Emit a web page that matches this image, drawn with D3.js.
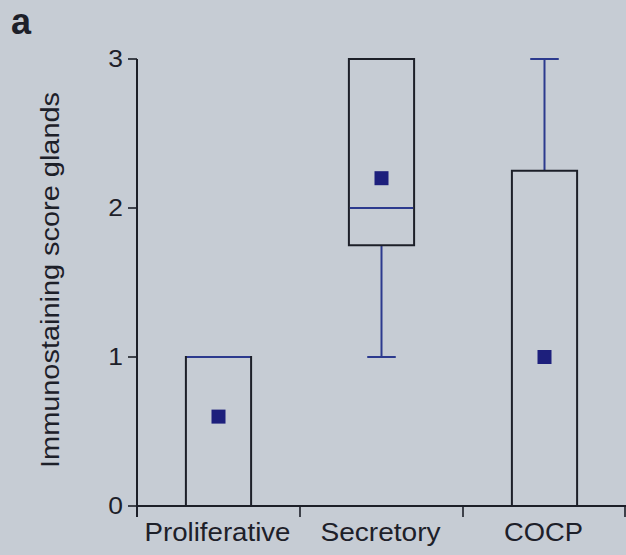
<!DOCTYPE html>
<html>
<head>
<meta charset="utf-8">
<script src="https://cdn.jsdelivr.net/npm/d3@7"></script>
<style>
  html, body { margin: 0; padding: 0; background: #c6ccd4; }
  svg { display: block; }
  text { font-family: "Liberation Sans", Arial, Helvetica, sans-serif; fill: #1d2029; }
</style>
</head>
<body>
<svg id="chart" width="626" height="555"></svg>
<script>
// Box-plot summary per group (immunostaining score, 0-3)
const categories = ["Proliferative", "Secretory", "COCP"];
const minValues    = [0, 1, 0];
const q1Values     = [0, 1.75, 0];
const medianValues = [1, 2, 0];
const q3Values     = [1, 3, 2.25];
const maxValues    = [1, 3, 3];
const meanValues   = [0.6, 2.2, 1.0];
const yTicks = [0, 1, 2, 3];
const yLabel = "Immunostaining score glands";
const panelLetter = "a";

const W = 626, H = 555;
const margin = { left: 137, right: 0, top: 59, bottom: 50 };

const svg = d3.select("#chart");
svg.append("rect").attr("width", W).attr("height", H).attr("fill", "#c6ccd4");

const x = d3.scaleBand().domain(categories).range([margin.left, W - margin.right]).padding(0);
const y = d3.scaleLinear().domain([0, 3]).range([H - margin.bottom + 1, margin.top]);

const ink = "#1c1f28";
const blue = "#2c3a8e";
const meanFill = "#1d1f7c";

const rows = categories.map((c, i) => ({
  c, min: minValues[i], q1: q1Values[i], med: medianValues[i],
  q3: q3Values[i], max: maxValues[i], mean: meanValues[i]
}));

const boxW = x.bandwidth() * 0.4;
const capW = x.bandwidth() * 0.175;
const cx = d => x(d.c) + x.bandwidth() / 2;

const g = svg.append("g");

// whiskers
rows.forEach(d => {
  if (d.max > d.q3) {
    g.append("line").attr("x1", cx(d)).attr("x2", cx(d)).attr("y1", y(d.q3)).attr("y2", y(d.max))
      .attr("stroke", blue).attr("stroke-width", 2);
    g.append("line").attr("x1", cx(d) - capW / 2).attr("x2", cx(d) + capW / 2).attr("y1", y(d.max)).attr("y2", y(d.max))
      .attr("stroke", blue).attr("stroke-width", 2);
  }
  if (d.min < d.q1) {
    g.append("line").attr("x1", cx(d)).attr("x2", cx(d)).attr("y1", y(d.q1)).attr("y2", y(d.min))
      .attr("stroke", blue).attr("stroke-width", 2);
    g.append("line").attr("x1", cx(d) - capW / 2).attr("x2", cx(d) + capW / 2).attr("y1", y(d.min)).attr("y2", y(d.min))
      .attr("stroke", blue).attr("stroke-width", 2);
  }
});

// boxes
g.selectAll("rect.box").data(rows).join("rect")
  .attr("class", "box")
  .attr("x", d => cx(d) - boxW / 2)
  .attr("width", boxW)
  .attr("y", d => y(d.q3))
  .attr("height", d => y(d.q1) - y(d.q3))
  .attr("fill", "none")
  .attr("stroke", ink)
  .attr("stroke-width", 2);

// x axis baseline drawn before median lines so a zero median stays visible
const axisY = y(0);
svg.append("line").attr("x1", margin.left).attr("x2", W).attr("y1", axisY).attr("y2", axisY)
  .attr("stroke", ink).attr("stroke-width", 2);

// medians
g.selectAll("line.med").data(rows).join("line")
  .attr("class", "med")
  .attr("x1", d => cx(d) - boxW / 2 + 1)
  .attr("x2", d => cx(d) + boxW / 2 - 1)
  .attr("y1", d => y(d.med)).attr("y2", d => y(d.med))
  .attr("stroke", blue).attr("stroke-width", 2);

// means
const ms = 14;
g.selectAll("rect.mean").data(rows).join("rect")
  .attr("class", "mean")
  .attr("x", d => cx(d) - ms / 2)
  .attr("y", d => y(d.mean) - ms / 2)
  .attr("width", ms).attr("height", ms)
  .attr("fill", meanFill);

// y axis
const yAxis = svg.append("g");
yAxis.append("line").attr("x1", margin.left).attr("x2", margin.left)
  .attr("y1", y(3)).attr("y2", axisY + 11).attr("stroke", ink).attr("stroke-width", 2);
yTicks.forEach(t => {
  yAxis.append("line").attr("x1", margin.left - 9).attr("x2", margin.left)
    .attr("y1", y(t)).attr("y2", y(t)).attr("stroke", ink).attr("stroke-width", 1.6);
  yAxis.append("text")
    .attr("transform", `translate(${margin.left - 14},${y(t) + 8}) scale(1.1,1)`)
    .attr("text-anchor", "end")
    .attr("font-size", 24)
    .text(d3.format("d")(t));
});

// x axis ticks at group boundaries
const bounds = categories.map(c => x(c)).concat([x.range()[1] - 1]);
bounds.slice(1).forEach(b => {
  svg.append("line").attr("x1", b).attr("x2", b).attr("y1", axisY).attr("y2", axisY + 11)
    .attr("stroke", ink).attr("stroke-width", 1.6);
});

// category labels
const labelWidths = { "Proliferative": 146, "Secretory": 120, "COCP": 79 };
categories.forEach(c => {
  svg.append("text")
    .attr("x", x(c) + x.bandwidth() / 2 - 1)
    .attr("y", 541)
    .attr("text-anchor", "middle")
    .attr("font-size", 25)
    .attr("textLength", labelWidths[c])
    .attr("lengthAdjust", "spacingAndGlyphs")
    .text(c);
});

// y axis title
svg.append("text")
  .attr("transform", `translate(59,280) rotate(-90)`)
  .attr("text-anchor", "middle")
  .attr("font-size", 25)
  .attr("textLength", 376)
  .attr("lengthAdjust", "spacingAndGlyphs")
  .text(yLabel);

// panel letter
svg.append("text")
  .attr("x", 11).attr("y", 34)
  .attr("font-size", 36)
  .attr("font-weight", "bold")
  .text(panelLetter);
</script>
</body>
</html>
